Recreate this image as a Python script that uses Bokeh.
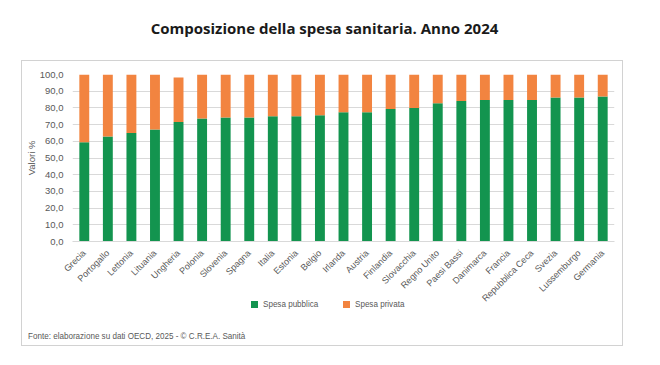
import math
from bokeh.plotting import figure
from bokeh.models import (Div, FactorRange, Range1d, FixedTicker, CustomJSTickFormatter)
from bokeh.layouts import column
from bokeh.embed import file_html
from bokeh.resources import INLINE

countries = ["Grecia", "Portogallo", "Lettonia", "Lituania", "Ungheria", "Polonia",
             "Slovenia", "Spagna", "Italia", "Estonia", "Belgio", "Irlanda", "Austria",
             "Finlandia", "Slovacchia", "Regno Unito", "Paesi Bassi", "Danimarca",
             "Francia", "Repubblica Ceca", "Svezia", "Lussemburgo", "Germania"]
spesa_pubblica = [59.5, 62.9, 64.9, 67.1, 71.5, 73.7, 74.3, 74.3, 75.0, 75.0, 75.6,
                  77.4, 77.4, 79.4, 80.0, 82.8, 84.2, 84.8, 84.8, 84.8, 86.2, 86.2, 86.8]
spesa_privata = [40.5, 37.1, 35.1, 32.9, 26.7, 26.3, 25.7, 25.7, 25.0, 25.0, 24.4,
                 22.6, 22.6, 20.6, 20.0, 17.2, 15.8, 15.2, 15.2, 15.2, 13.8, 13.8, 13.2]
y_ticks = [0, 10, 20, 30, 40, 50, 60, 70, 80, 90, 100]
series_names = ["Spesa pubblica", "Spesa privata"]

GREEN = "#13944f"
ORANGE = "#f28440"
GRAY = "#595959"
FONT = "Liberation Sans"

title = Div(text='<div style="width:649px;padding-top:18px;text-align:center;font-family:\'Open Sans\';'
                 'font-weight:bold;font-size:15px;line-height:normal;color:#1a1a1a;white-space:nowrap">'
                 'Composizione della spesa sanitaria. Anno 2024</div>',
            width=649, height=60, margin=0)

p = figure(x_range=FactorRange(factors=countries, range_padding=0),
           y_range=Range1d(0, 100),
           width=600, height=249, output_backend="svg", toolbar_location=None,
           min_border_left=44, min_border_right=8, min_border_top=13, min_border_bottom=55,
           margin=0)
p.outline_line_color = None

data = dict(country=countries, pub=spesa_pubblica, priv=spesa_privata)
rs = p.vbar_stack(["pub", "priv"], x="country", width=0.42, source=data,
                  color=[GREEN, ORANGE], line_color=None)

p.xgrid.grid_line_color = None
p.ygrid.grid_line_color = "#d9d9d9"
p.ygrid.grid_line_width = 1

p.yaxis.ticker = FixedTicker(ticks=y_ticks)
p.yaxis.formatter = CustomJSTickFormatter(code="return tick.toFixed(1).replace('.', ',');")
p.yaxis.axis_label = "Valori %"
p.yaxis.axis_label_text_font = FONT
p.yaxis.axis_label_text_font_style = "normal"
p.yaxis.axis_label_text_font_size = "9.5px"
p.yaxis.axis_label_text_color = GRAY
p.yaxis.axis_label_standoff = 0
p.yaxis.axis_line_color = None
p.yaxis.major_tick_line_color = None
p.yaxis.minor_tick_line_color = None
p.yaxis.major_label_text_font = FONT
p.yaxis.major_label_text_font_size = "9.5px"
p.yaxis.major_label_text_color = GRAY
p.yaxis.major_label_standoff = 3

p.xaxis.axis_line_color = "#d9d9d9"
p.xaxis.major_tick_line_color = None
p.xaxis.minor_tick_line_color = None
p.xaxis.major_label_orientation = math.pi / 4
p.xaxis.major_label_text_font = FONT
p.xaxis.major_label_text_font_size = "9px"
p.xaxis.major_label_text_color = GRAY
p.xaxis.major_label_standoff = 4

txt = (f'font-family:\'{FONT}\';font-size:9.5px;line-height:11px;color:{GRAY};white-space:nowrap;'
       'display:inline-block;transform:scaleX(0.85);transform-origin:0 0;')
sq = 'display:inline-block;width:7px;height:7px;margin-right:5px;vertical-align:-1px;'
legend_div = Div(text=(f'<div style="padding-left:229px;padding-top:0px;white-space:nowrap;line-height:11px">'
                       f'<span style="{sq}background:{GREEN}"></span>'
                       f'<span style="{txt}width:55px">{series_names[0]}</span>'
                       f'<span style="{sq}margin-left:25px;background:{ORANGE}"></span>'
                       f'<span style="{txt}">{series_names[1]}</span></div>'),
                 width=600, height=19, margin=(-15, 0, 0, 0))

src_div = Div(text=(f'<div style="padding-left:6px;padding-top:16px;line-height:11px">'
                    f'<span style="{txt}">Fonte: elaborazione su dati OECD, 2025 - © C.R.E.A. Sanità</span></div>'),
              width=600, height=31, margin=0)

box = column(p, legend_div, src_div, spacing=0, margin=(0, 0, 0, 21),
             styles={"border": "1px solid #d2d2d2"})

layout = column(title, box, spacing=0, margin=0)
open("out.html", "w").write(file_html(layout, INLINE))
